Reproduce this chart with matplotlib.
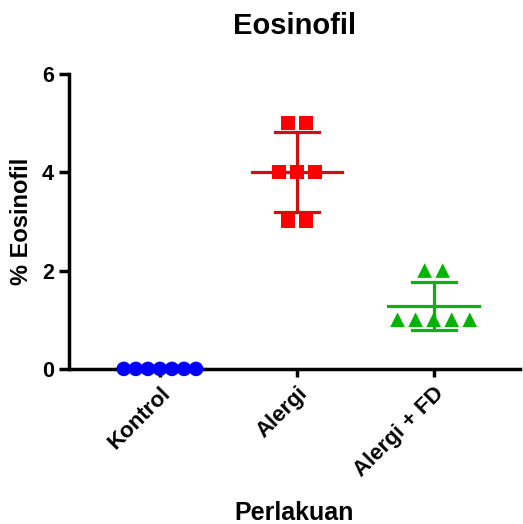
import numpy as np
import matplotlib.pyplot as plt

plt.rcParams['font.family'] = ['Liberation Sans', 'DejaVu Sans']
plt.rcParams['font.weight'] = 'bold'

groups = ['Kontrol', 'Alergi', 'Alergi + FD']
kontrol = [0, 0, 0, 0, 0, 0, 0]
alergi = [5, 5, 4, 4, 4, 3, 3]
alergi_fd = [2, 2, 1, 1, 1, 1, 1]
values = [kontrol, alergi, alergi_fd]

colors = ['#0000ff', '#ff0000', '#00b400']
line_colors = ['#0000cc', '#d01010', '#10b010']
markers = ['o', 's', '^']
steps = [0.088, 0.132, 0.132]  # horizontal spread of overlapping points

fig = plt.figure(figsize=(5.23, 5.24), dpi=100)
ax = fig.add_axes([0.132, 0.296, 0.862, 0.563])

for i, vals in enumerate(values):
    vals = np.array(vals, dtype=float)
    m = vals.mean()
    sd = vals.std(ddof=1)
    # garis rata-rata dan SD
    ax.plot([i - 0.33, i + 0.33], [m, m], color=line_colors[i], lw=2.3, zorder=2, clip_on=False)
    if sd > 0:
        ax.plot([i, i], [m - sd, m + sd], color=line_colors[i], lw=2.3, zorder=2)
        for y in (m - sd, m + sd):
            ax.plot([i - 0.16, i + 0.16], [y, y], color=line_colors[i], lw=2.3, zorder=2)
    # titik yang sama nilainya digeser ke samping
    for v in np.unique(vals):
        n = int((vals == v).sum())
        offs = (np.arange(n) - (n - 1) / 2) * steps[i]
        ax.scatter(i + offs, [v] * n, marker=markers[i], s=100 if i == 1 else 110,
                   color=colors[i], edgecolors='none', zorder=3, clip_on=False)

ax.set_xlim(-0.664, 2.63)
ax.set_ylim(0, 6)
ax.set_yticks([0, 2, 4, 6])
ax.set_xticks(range(len(groups)))
ax.set_xticklabels(groups, rotation=45, ha='right', rotation_mode='anchor')

for s in ['top', 'right']:
    ax.spines[s].set_visible(False)
for s in ['left', 'bottom']:
    ax.spines[s].set_linewidth(2.5)

ax.tick_params(axis='y', length=7, width=2.5, labelsize=15.5, pad=4)
ax.tick_params(axis='x', length=6, width=2.5, labelsize=16, pad=4)
for lbl in ax.get_xticklabels() + ax.get_yticklabels():
    lbl.set_fontweight('bold')

ax.set_ylabel('% Eosinofil', fontsize=17, fontweight='bold', labelpad=6)
ax.set_xlabel('Perlakuan', fontsize=18, fontweight='bold')
ax.xaxis.set_label_coords(0.5, -0.447)
ax.set_title('Eosinofil', fontsize=21, fontweight='bold', pad=29)

plt.savefig('out.png', dpi=100)
